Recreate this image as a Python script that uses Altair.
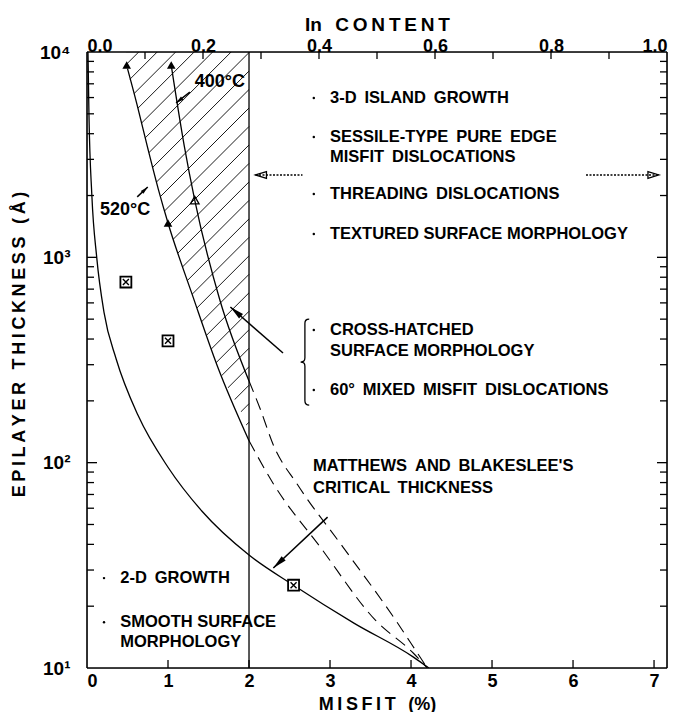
import math
import altair as alt
import pandas as pd

# ---------------- data ----------------
# Matthews & Blakeslee critical thickness (solid)
mb_misfit = [0.012, 0.024, 0.06, 0.12, 0.21, 0.36, 0.63, 1.0, 1.42, 2.0, 2.55, 3.3, 4.03, 4.22]
mb_thick = [10000, 5000, 2000, 1000, 540, 320, 170, 95, 58, 35.5, 25.3, 16.5, 11.3, 10]
# 520 C boundary (solid part, left edge of hatched band)
c520_misfit = [0.50, 0.62, 0.75, 0.88, 1.0, 1.31, 1.61, 2.0]
c520_thick = [8300, 5500, 3400, 2150, 1470, 640, 295, 128]
# 400 C boundary (solid part)
c400_misfit = [1.04, 1.2, 1.33, 1.64, 2.0]
c400_thick = [8600, 3500, 1900, 620, 250]
# dashed continuations beyond 2 %
d520_misfit = [2.0, 2.30, 2.88, 3.56, 4.03, 4.2]
d520_thick = [128, 79, 38.8, 17.1, 11.8, 10]
d400_misfit = [2.0, 2.14, 2.30, 2.60, 3.16, 3.81, 4.08, 4.2]
d400_thick = [250, 182, 122, 78, 38.8, 17.1, 11.8, 10]
# markers
tri_filled_misfit = [0.49, 1.04, 1.0]
tri_filled_thick = [8640, 8640, 1470]
tri_open_misfit = [1.33]
tri_open_thick = [1900]
sq_misfit = [0.48, 1.0, 2.55]
sq_thick = [758, 392, 25.3]
# vertical boundary
boundary_misfit = 2.0

# annotation texts
SP = " \u2009"
note_text = ["3-D" + SP + "ISLAND" + SP + "GROWTH", "SESSILE-TYPE" + SP + "PURE" + SP + "EDGE",
             "MISFIT" + SP + "DISLOCATIONS", "THREADING" + SP + "DISLOCATIONS",
             "TEXTURED SURFACE MORPHOLOGY",
             "CROSS-HATCHED", "SURFACE MORPHOLOGY", "60°" + SP + "MIXED" + SP + "MISFIT" + SP + "DISLOCATIONS",
             "MATTHEWS" + SP + "AND" + SP + "BLAKESLEE'S", "CRITICAL" + SP + "THICKNESS",
             "2-D" + SP + "GROWTH", "SMOOTH SURFACE", "MORPHOLOGY"]
note_misfit = [3.0, 3.0, 3.0, 3.0, 3.0, 3.0, 3.0, 3.0, 2.79, 2.79, 0.41, 0.41, 0.41]
note_thick = [5970, 3855, 3080, 2034, 1300, 443, 350, 226, 96, 75, 27.4, 16.7, 13.4]
dot_misfit = [2.8, 2.8, 2.8, 2.8, 2.8, 2.8, 0.21, 0.21]
dot_thick = [5970, 3855, 2034, 1300, 443, 226, 27.4, 16.7]
temp_text = ["400°C", "520°C"]
temp_misfit = [1.64, 0.47]
temp_thick = [7140, 1700]
brace_misfit = [2.69]
brace_thick = [309]

# arrows: tail -> head
arrow_tail_misfit = [1.27, 0.62, 2.42, 2.97]
arrow_tail_thick = [6380, 1970, 342, 54.3]
arrow_head_misfit = [1.10, 0.75, 1.77, 2.30]
arrow_head_thick = [5650, 2200, 573, 30.7]
darrow_tail_misfit = [2.66, 6.16]
darrow_head_misfit = [2.08, 7.06]
darrow_thick = 2518

# axes
bottom_ticks = [0, 1, 2, 3, 4, 5, 6, 7]
in_labels = [0.0, 0.2, 0.4, 0.6, 0.8, 1.0]
in_minor = [0.1, 0.2, 0.3, 0.4, 0.5, 0.6, 0.7, 0.8, 0.9]
y_major = [10, 100, 1000, 10000]

# ---------------- layout ----------------
W, H = 580, 616
XMAX = 7.16            # misfit of InAs on GaAs (In content = 1)
YMIN, YMAX = 10, 10000
PXM = W / XMAX         # px per misfit unit
PXD = H / 3.0          # px per decade
FONT = "Liberation Sans"
TS = "\u2009"
WS = "\u2002\u2009"

xs = alt.Scale(domain=[0, XMAX], nice=False, zero=False)
ys = alt.Scale(type="log", domain=[YMIN, YMAX], nice=False)


def X(f="m", axis=None):
    return alt.X(f"{f}:Q", scale=xs, axis=axis)


def Y(f="t", axis=None):
    return alt.Y(f"{f}:Q", scale=ys, axis=axis)


def px(m, t):
    return m * PXM, H - (math.log10(t) - 1) * PXD


def curve(ms, ts, dash=None, width=1.3, interp="monotone", xaxis=None, yaxis=None):
    df = pd.DataFrame({"m": ms, "t": ts, "o": list(range(len(ms)))})
    kw = {"strokeDash": dash} if dash else {}
    return alt.Chart(df).mark_line(color="black", strokeWidth=width, interpolate=interp,
                                   clip=True, **kw).encode(
        x=X(axis=xaxis), y=Y(axis=yaxis), order="o:Q")


layers = []

# hatching (straight lines in pixel space -> linear in log10(t) vs misfit)
k = PXM * 1.0 / PXD
rows = []
lt = math.log10(128)
hid = 0
while lt < 4.75:
    for mm in (0.2, boundary_misfit):
        rows.append({"h": hid, "m": mm, "t": 10 ** (lt + (mm - boundary_misfit) * k)})
    hid += 1
    lt += 0.09
hatch = alt.Chart(pd.DataFrame(rows)).mark_line(color="black", strokeWidth=0.9, clip=True).encode(
    x=X(), y=Y(), detail="h:N")
layers.append(hatch)

# white cover left of the 520 C boundary
cov_m = [boundary_misfit, boundary_misfit] + c520_misfit[::-1][1:] + [0.48]
cov_t = [10, c520_thick[-1]] + c520_thick[::-1][1:] + [10000]
cov = pd.DataFrame({"m": cov_m, "t": cov_t, "x0": [0.01] * len(cov_m)})
layers.append(alt.Chart(cov).mark_area(orient="horizontal", color="white", opacity=1,
                                       interpolate="monotone", clip=True).encode(
    y=Y(), x=X(), x2=alt.X2("x0")))

# vertical 2 % line
layers.append(alt.Chart(pd.DataFrame({"m": [boundary_misfit]})).mark_rule(
    color="black", strokeWidth=1.3).encode(x=X()))

# curves
layers.append(curve(mb_misfit, mb_thick,
                    xaxis=alt.Axis(orient="bottom", values=bottom_ticks, format="d", ticks=False,
                                   domain=False, labelFont=FONT, labelFontWeight="bold",
                                   labelFontSize=18, labelPadding=4, labelColor="black",
                                   title=TS.join("MISFIT") + WS + "(%)",
                                   titleFont=FONT, titleFontWeight="bold", titleFontSize=18,
                                   titleColor="black", titleY=36, titleBaseline="middle"),
                    yaxis=alt.Axis(orient="left", values=y_major, ticks=False, domain=False,
                                   labelExpr="datum.value == 10 ? '10¹' : datum.value == 100 ? '10²' : datum.value == 1000 ? '10³' : '10⁴'",
                                   labelFont=FONT, labelFontWeight="bold", labelFontSize=19,
                                   labelPadding=17, labelColor="black",
                                   title=TS.join("EPILAYER") + WS + TS.join("THICKNESS") + WS + TS.join("(Å)"),
                                   titleFont=FONT, titleFontWeight="bold", titleFontSize=18,
                                   titleColor="black", titleX=-68, titleY=292,
                                   titleAngle=270, titleBaseline="middle")))
layers.append(curve(c520_misfit, c520_thick))
layers.append(curve(c400_misfit, c400_thick,
                    xaxis=alt.Axis(orient="top", values=[v * XMAX for v in in_labels],
                                   labelExpr="format(datum.value / 7.16, '.1f')",
                                   ticks=False, domain=False, labelFont=FONT,
                                   labelFontWeight="bold", labelFontSize=18, labelPadding=-3,
                                   labelColor="black",
                                   title="In" + WS + TS.join("CONTENT"), titleFont=FONT,
                                   titleFontWeight="bold", titleFontSize=19, titleColor="black",
                                   titleY=-28, titleBaseline="middle")))
layers.append(curve(d520_misfit, d520_thick, dash=[12, 7], width=1.1))
layers.append(curve(d400_misfit, d400_thick, dash=[12, 7], width=1.1))

# markers
layers.append(alt.Chart(pd.DataFrame({"m": tri_filled_misfit, "t": tri_filled_thick})).mark_point(
    shape="triangle-up", filled=True, size=75, color="black", opacity=1).encode(x=X(), y=Y()))
layers.append(alt.Chart(pd.DataFrame({"m": tri_open_misfit, "t": tri_open_thick})).mark_point(
    shape="triangle-up", filled=False, size=75, color="black", strokeWidth=1.3, opacity=1).encode(x=X(), y=Y()))
sq = pd.DataFrame({"m": sq_misfit, "t": sq_thick})
layers.append(alt.Chart(sq).mark_point(shape="square", filled=True, size=120, color="white",
                                       opacity=1).encode(x=X(), y=Y()))
layers.append(alt.Chart(sq).mark_point(shape="square", filled=False, size=120, color="black",
                                       strokeWidth=1.8, opacity=1).encode(x=X(), y=Y()))
layers.append(alt.Chart(sq).mark_point(shape="M-1,-1L1,1M-1,1L1,-1", filled=False, size=36,
                                       color="black", strokeWidth=1.4, opacity=1).encode(x=X(), y=Y()))

# arrows
arows, heads = [], []
for i in range(len(arrow_tail_misfit)):
    m0, t0 = arrow_tail_misfit[i], arrow_tail_thick[i]
    m1, t1 = arrow_head_misfit[i], arrow_head_thick[i]
    arows += [{"a": i, "m": m0, "t": t0}, {"a": i, "m": m1, "t": t1}]
    x0, y0 = px(m0, t0)
    x1, y1 = px(m1, t1)
    ang = math.degrees(math.atan2(x1 - x0, -(y1 - y0))) % 360
    heads.append({"m": m1, "t": t1, "ang": ang, "big": i >= 2})
layers.append(alt.Chart(pd.DataFrame(arows)).mark_line(color="black", strokeWidth=1.5).encode(
    x=X(), y=Y(), detail="a:N"))
hd = pd.DataFrame(heads)
layers.append(alt.Chart(hd[hd.big]).mark_point(shape="M0,0L0.42,2L-0.42,2Z", filled=True, size=200,
                                               color="black", opacity=1).encode(
    x=X(), y=Y(), angle=alt.Angle("ang:Q", scale=None)))
layers.append(alt.Chart(hd[~hd.big]).mark_point(shape="M0,0L0.5,2L-0.5,2Z", filled=True, size=60,
                                                color="black", opacity=1).encode(
    x=X(), y=Y(), angle=alt.Angle("ang:Q", scale=None)))

# double (dotted) arrows
drows, dheads = [], []
for i in range(len(darrow_tail_misfit)):
    drows += [{"a": i, "m": darrow_tail_misfit[i], "t": darrow_thick},
              {"a": i, "m": darrow_head_misfit[i], "t": darrow_thick}]
    ang = 270 if darrow_head_misfit[i] < darrow_tail_misfit[i] else 90
    dheads.append({"m": darrow_head_misfit[i], "t": darrow_thick, "ang": ang})
layers.append(alt.Chart(pd.DataFrame(drows)).mark_line(color="black", strokeWidth=1.3,
                                                       strokeDash=[2, 1.5]).encode(
    x=X(), y=Y(), detail="a:N"))
layers.append(alt.Chart(pd.DataFrame(dheads)).mark_point(shape="M0,0L0.6,2L-0.6,2Z", filled=False,
                                                         size=120, color="black", strokeWidth=1.3,
                                                         opacity=1).encode(
    x=X(), y=Y(), angle=alt.Angle("ang:Q", scale=None)))

# brace
layers.append(alt.Chart(pd.DataFrame({"m": brace_misfit, "t": brace_thick})).mark_point(
    shape="M0.1,-1C0.02,-1 0,-0.97 0,-0.9L0,-0.1C0,-0.03 -0.03,0 -0.1,0C-0.03,0 0,0.03 0,0.1L0,0.9C0,0.97 0.02,1 0.1,1",
    filled=False, size=7400, color="black", strokeWidth=1.3, opacity=1).encode(x=X(), y=Y()))

# texts
layers.append(alt.Chart(pd.DataFrame({"m": note_misfit, "t": note_thick, "s": note_text})).mark_text(
    align="left", baseline="middle", font=FONT, fontWeight="bold", fontSize=16.5, color="black").encode(
    x=X(), y=Y(), text="s:N"))
layers.append(alt.Chart(pd.DataFrame({"m": dot_misfit, "t": dot_thick})).mark_point(
    shape="circle", filled=True, size=6, color="black", opacity=1).encode(x=X(), y=Y()))
layers.append(alt.Chart(pd.DataFrame({"m": temp_misfit, "t": temp_thick, "s": temp_text})).mark_text(
    align="center", baseline="middle", font=FONT, fontWeight="bold", fontSize=18, color="black").encode(
    x=X(), y=Y(), text="s:N"))

# inward ticks
tk = []
for e in (1, 2, 3):
    for v in range(1, 10):
        val = v * 10 ** e
        if val >= YMAX or val == 10:
            continue
        ln = (10 if v == 1 else 7) / PXM
        tk.append({"t": val, "a": 0, "b": ln})
        tk.append({"t": val, "a": XMAX - ln, "b": XMAX})
layers.append(alt.Chart(pd.DataFrame(tk)).mark_rule(color="black", strokeWidth=1.3).encode(
    y=Y(), x=X("a"), x2=alt.X2("b")))
bt = pd.DataFrame({"m": bottom_ticks[1:], "a": [YMIN] * 7, "b": [10 ** (1 + 8 / PXD)] * 7})
layers.append(alt.Chart(bt).mark_rule(color="black", strokeWidth=1.3).encode(
    x=X(), y=Y("a"), y2=alt.Y2("b")))
tt = pd.DataFrame({"m": [c * XMAX for c in in_minor], "a": [10 ** (4 - 7 / PXD)] * 9, "b": [YMAX] * 9})
layers.append(alt.Chart(tt).mark_rule(color="black", strokeWidth=1.3).encode(
    x=X(), y=Y("a"), y2=alt.Y2("b")))

# frame
frame = pd.DataFrame({"m": [0, XMAX]})
layers.append(alt.Chart(frame).mark_rule(color="black", strokeWidth=1.6).encode(x=X()))
frame_y = pd.DataFrame({"t": [YMIN, YMAX]})
layers.append(alt.Chart(frame_y).mark_rule(color="black", strokeWidth=1.6).encode(y=Y()))

chart = alt.layer(*layers).resolve_axis(x="independent", y="independent").properties(
    width=W, height=H,
    autosize=alt.AutoSizeParams(type="none"),
    padding={"left": 79, "top": 44, "right": 6, "bottom": 44},
).configure_view(stroke=None).configure(background="white")

chart.save("out.html", embed_options={"renderer": "svg", "actions": False})
